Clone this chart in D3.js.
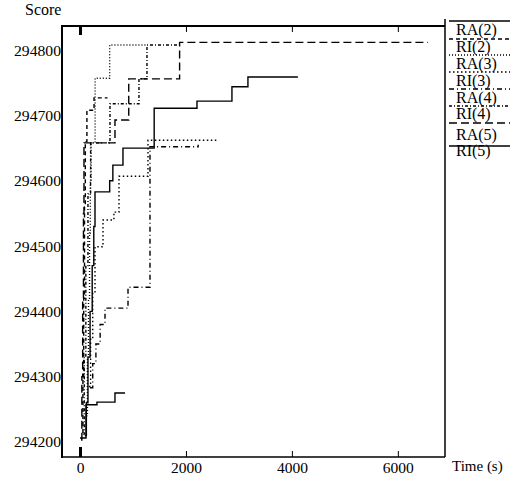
<!DOCTYPE html>
<html><head><meta charset="utf-8">
<script src="https://cdn.jsdelivr.net/npm/d3@7"></script>
<style>
html,body{margin:0;padding:0;background:#fff;}
text{font-family:"Liberation Serif","Times New Roman",serif;fill:#000;}
</style></head>
<body>
<script>
// ---- data (time in s, score) ----
const seriesNames = ["RA(2)","RI(2)","RA(3)","RI(3)","RA(4)","RI(4)","RA(5)","RI(5)"];
const RA2 = [[90,294210],[120,294260],[150,294330],[190,294400],[230,294470],[260,294530],[283,294583],[560,294600],[620,294624],[811,294650],[1400,294711],[2208,294722],[2868,294744],[3170,294759],[4113,294759]];
const RI2 = [[40,294215],[55,294300],[70,294420],[85,294560],[100,294660],[130,294708],[265,294727],[520,294727]];
const RA3 = [[120,294240],[140,294330],[160,294420],[180,294520],[195,294600],[210,294658],[285,294757],[560,294808],[1264,294808]];
const RI3 = [[170,294285],[200,294360],[240,294430],[283,294499],[434,294540],[640,294552],[736,294607],[1283,294662],[2600,294662]];
const RA4 = [[190,294283],[240,294320],[300,294350],[380,294380],[472,294405],[906,294437],[1321,294652],[2230,294655]];
const RI4 = [[60,294212],[80,294330],[110,294470],[150,294580],[200,294658],[566,294718],[1113,294756],[1264,294808],[1890,294808]];
const RA5 = [[20,294203],[35,294300],[50,294420],[65,294550],[75,294658],[660,294693],[920,294756],[1880,294812],[6570,294812]];
const RI5 = [[0,294206],[113,294257],[320,294261],[660,294275],[850,294275]];
const xTicks = [0,2000,4000,6000];
const yTicks = [294200,294300,294400,294500,294600,294700,294800];

const allSeries = [RA2,RI2,RA3,RI3,RA4,RI4,RA5,RI5];
const dashes = [null,"4,3","1,2","1.5,2.5","5,3,1,3","3,2,1,2","8,4",null];

const W=515,H=478, L=62, R=445, T=26, B=457;
const svg = d3.select("body").append("svg").attr("width",W).attr("height",H);
const x = d3.scaleLinear().domain([-340,6890]).range([L,R]);
const y = d3.scaleLinear().domain([294177,294837]).range([B,T]);

// frame
svg.append("line").attr("x1",L).attr("x2",L).attr("y1",T-1).attr("y2",B+1).attr("stroke","#000").attr("stroke-width",2);
svg.append("line").attr("x1",L).attr("x2",R).attr("y1",T).attr("y2",T).attr("stroke","#000").attr("stroke-width",2);
svg.append("line").attr("x1",L).attr("x2",R).attr("y1",B).attr("y2",B).attr("stroke","#000").attr("stroke-width",1.5);
svg.append("line").attr("x1",R).attr("x2",R).attr("y1",19).attr("y2",B).attr("stroke","#000").attr("stroke-width",1.5);

// bottom axis
const gx = svg.append("g").attr("transform",`translate(0,${B})`)
  .call(d3.axisBottom(x).tickValues(xTicks).tickSize(-6).tickPadding(5).tickFormat(d3.format("d")));
gx.select(".domain").remove();
gx.selectAll("text").style("font-size","15.5px").style("font-family","Liberation Serif");
gx.selectAll(".tick line").attr("stroke","#000").attr("stroke-width",1)
  .filter(d=>d===0).attr("stroke-width",3).attr("y2",-10);
// top axis ticks
const gt = svg.append("g").attr("transform",`translate(0,${T})`)
  .call(d3.axisTop(x).tickValues(xTicks).tickSize(-6).tickFormat(""));
gt.select(".domain").remove();
gt.selectAll(".tick line").attr("stroke","#000").attr("stroke-width",1)
  .filter(d=>d===0).attr("stroke-width",3).attr("y2",9);

// left axis labels
const gy = svg.append("g").attr("transform",`translate(${L},0)`)
  .call(d3.axisLeft(y).tickValues(yTicks).tickSize(0).tickPadding(1).tickFormat(d3.format("d")));
gy.select(".domain").remove();
gy.selectAll("text").style("font-size","15.5px").style("font-family","Liberation Serif")
  .attr("textLength",47).attr("lengthAdjust","spacingAndGlyphs");

svg.append("text").attr("x",25).attr("y",15).style("font-size","16px").text("Score");
svg.append("text").attr("x",452).attr("y",471).style("font-size","15px").text("Time (s)");

// series
const line = d3.line().x(d=>x(d[0])).y(d=>y(d[1])).curve(d3.curveStepAfter);
const plot = svg.append("g");
allSeries.forEach((s,i)=>{
  plot.append("path").datum(s).attr("d",line).attr("fill","none")
    .attr("stroke","#000").attr("stroke-width",1.4)
    .attr("stroke-dasharray",dashes[i]);
});

// legend
const legTextY = [35,52,69,86,103,119,140,156];
const legLineY = [21,39,55,72,89,106,123,146];
seriesNames.forEach((n,i)=>{
  svg.append("line").attr("x1",449).attr("x2",510).attr("y1",legLineY[i]).attr("y2",legLineY[i])
    .attr("stroke","#000").attr("stroke-width",1.3).attr("stroke-dasharray",dashes[i]);
  svg.append("text").attr("x",456).attr("y",legTextY[i]).style("font-size","16px").text(n);
});
</script>
</body></html>
